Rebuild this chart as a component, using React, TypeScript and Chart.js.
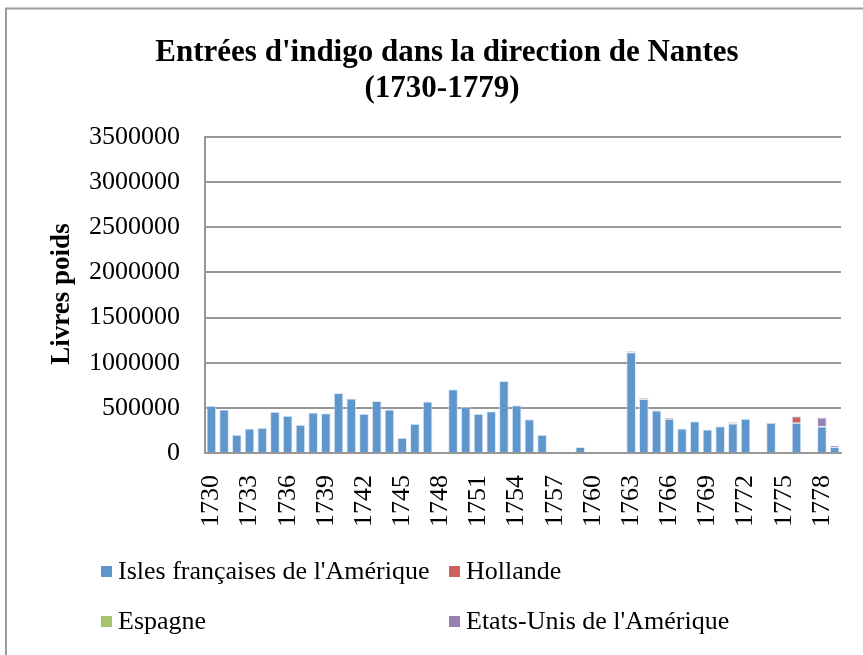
import React, { useEffect, useRef } from "react";
import { Chart, registerables } from "chart.js";

Chart.register(...registerables);

const years: string[] = [
  "1730","1731","1732","1733","1734","1735","1736","1737","1738","1739",
  "1740","1741","1742","1743","1744","1745","1746","1747","1748","1749",
  "1750","1751","1752","1753","1754","1755","1756","1757","1758","1759",
  "1760","1761","1762","1763","1764","1765","1766","1767","1768","1769",
  "1770","1771","1772","1773","1774","1775","1776","1777","1778","1779",
];

const isles: (number | null)[] = [
  522000, 481000, 202000, 272000, 279000, 456000, 412000, 312000, 448000, 441000,
  665000, 603000, 434000, 577000, 481000, 169000, 323000, 570000, null, 706000,
  511000, 434000, 463000, 798000, 530000, 375000, 202000, null, 8000, 66000,
  null, null, null, 1115000, 598000, 470000, 378000, 271000, 353000, 260000,
  297000, 327000, 378000, null, 334000, null, 334000, null, 294000, 66000,
];

const hollande: (number | null)[] = [
  null, null, null, null, null, null, null, null, null, null,
  null, null, null, null, null, null, null, null, null, null,
  null, null, null, null, null, null, null, null, null, null,
  null, null, null, null, null, null, 12000, null, null, null,
  null, null, null, null, null, null, 74000, null, null, null,
];

const espagne: (number | null)[] = [
  null, null, null, null, null, null, null, null, null, null,
  null, null, null, null, null, null, null, null, null, null,
  null, null, null, null, null, null, null, null, null, null,
  null, null, null, 15000, 12000, 12000, null, null, null, null,
  null, 18000, null, null, null, null, null, null, 6000, null,
];

const etatsUnis: (number | null)[] = [
  null, null, null, null, null, null, null, null, null, null,
  null, null, null, null, null, null, null, null, null, null,
  null, null, null, null, null, null, null, null, null, null,
  null, null, null, null, null, null, null, null, null, null,
  null, null, null, null, null, null, null, null, 92000, 15000,
];

const seriesNames = [
  "Isles françaises de l'Amérique",
  "Hollande",
  "Espagne",
  "Etats-Unis de l'Amérique",
];
const seriesColors = ["#5F97CC", "#CD625F", "#A7C46C", "#9680B6"];

const titleLines = ["Entrées d'indigo dans la direction de Nantes", "(1730-1779)"];
const yTitle = "Livres poids";

const FONT = "'Liberation Serif', 'Times New Roman', serif";

const decorPlugin = {
  id: "decor",
  afterDraw(chart: any) {
    const ctx = chart.ctx as CanvasRenderingContext2D;
    ctx.save();
    // outer frame (left and top)
    ctx.strokeStyle = "#9c9c9c";
    ctx.lineWidth = 2;
    ctx.beginPath();
    ctx.moveTo(6, 655);
    ctx.lineTo(6, 8.5);
    ctx.lineTo(863, 8.5);
    ctx.stroke();

    // title
    ctx.fillStyle = "#000";
    ctx.textAlign = "center";
    ctx.textBaseline = "middle";
    ctx.font = `bold 31px ${FONT}`;
    ctx.fillText(titleLines[0], 447, 53);
    ctx.fillText(titleLines[1], 442, 89);

    // y-axis title
    ctx.save();
    ctx.translate(62, 294);
    ctx.rotate(-Math.PI / 2);
    ctx.font = `bold 27px ${FONT}`;
    ctx.fillText(yTitle, 0, 0);
    ctx.restore();

    // legend
    const pos = [
      [101, 572],
      [449, 572],
      [101, 622],
      [449, 622],
    ];
    ctx.font = `26px ${FONT}`;
    ctx.textAlign = "left";
    chart.data.datasets.forEach((ds: any, i: number) => {
      const [x, y] = pos[i];
      ctx.fillStyle = ds.backgroundColor;
      ctx.fillRect(x, y - 6, 11, 11);
      ctx.fillStyle = "#000";
      ctx.fillText(ds.label, x + 17, y);
    });
    ctx.restore();
  },
};

export default function App() {
  const ref = useRef<HTMLCanvasElement | null>(null);

  useEffect(() => {
    if (!ref.current) return;
    const data = [isles, hollande, espagne, etatsUnis];
    const chart = new Chart(ref.current, {
      type: "bar",
      data: {
        labels: years,
        datasets: data.map((d, i) => ({
          label: seriesNames[i],
          data: d,
          backgroundColor: seriesColors[i],
          borderColor: "rgba(210,228,246,0.8)",
          borderWidth: 1,
          categoryPercentage: 0.76,
          barPercentage: 1,
        })),
      },
      options: {
        responsive: false,
        animation: false,
        layout: { padding: { top: 137, right: 22, left: 0, bottom: 0 } },
        plugins: {
          legend: { display: false },
          title: { display: false },
          tooltip: { enabled: false },
        },
        scales: {
          x: {
            stacked: true,
            grid: { display: false },
            border: { display: true, color: "#969696", width: 2 },
            ticks: {
              autoSkip: false,
              minRotation: 90,
              maxRotation: 90,
              padding: 14,
              color: "#000",
              font: { family: FONT, size: 26 },
              callback: (_v: any, idx: number) => (idx % 3 === 0 ? years[idx] : ""),
            },
            afterFit: (scale: any) => {
              scale.height = 202;
              scale.paddingLeft = 0;
              scale.paddingRight = 0;
            },
          },
          y: {
            stacked: true,
            min: 0,
            max: 3500000,
            grid: { color: "#969696", lineWidth: 2, drawTicks: false },
            border: { display: true, color: "#969696", width: 2 },
            ticks: {
              stepSize: 500000,
              padding: 25,
              color: "#000",
              font: { family: FONT, size: 26 },
              callback: (v: any) => String(v),
            },
            afterFit: (scale: any) => {
              scale.width = 205;
              scale.paddingTop = 0;
              scale.paddingBottom = 0;
            },
          },
        },
      },
      plugins: [decorPlugin],
    });
    return () => chart.destroy();
  }, []);

  return (
    <div style={{ position: "fixed", left: 0, top: 0, width: 863, height: 655, background: "#fff" }}>
      <canvas ref={ref} width={863} height={655} style={{ width: 863, height: 655 }} />
    </div>
  );
}
